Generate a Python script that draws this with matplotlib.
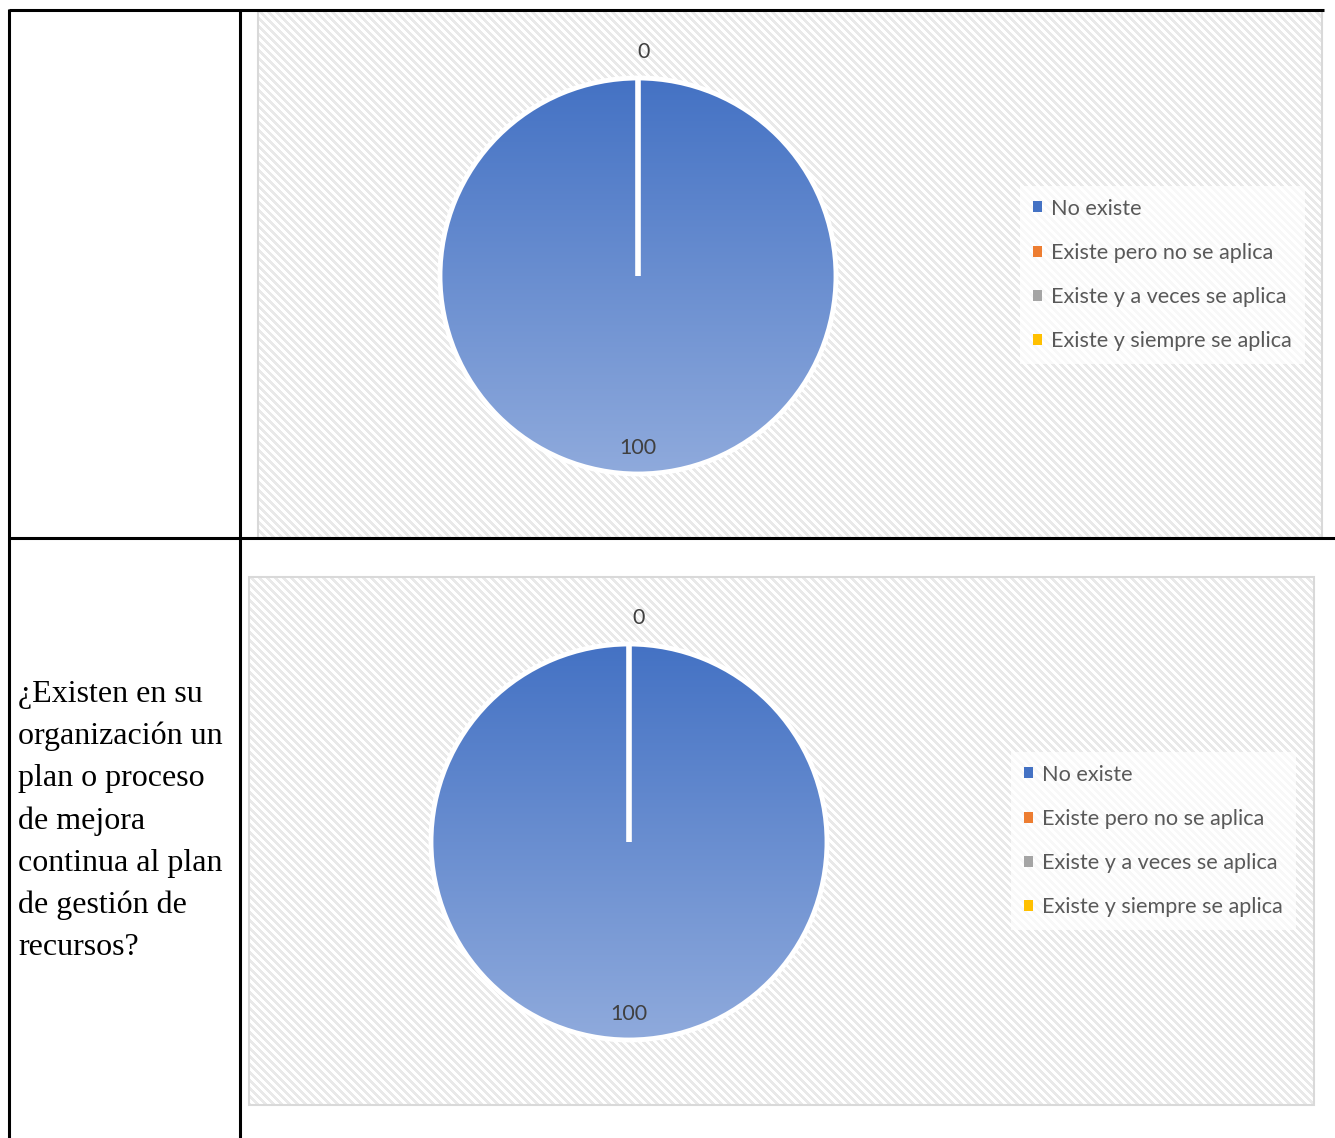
import numpy as np
import matplotlib
matplotlib.use("Agg")
import matplotlib.pyplot as plt
from matplotlib.colors import LinearSegmentedColormap
from matplotlib.patches import Patch, Rectangle

# ---- data ----
categories = ["No existe", "Existe pero no se aplica",
              "Existe y a veces se aplica", "Existe y siempre se aplica"]
values_chart1 = [100, 0, 0, 0]
values_chart2 = [100, 0, 0, 0]
colors = ["#4472C4", "#ED7D31", "#A5A5A5", "#FFC000"]
question_lines = ["¿Existen en su", "organización un", "plan o proceso",
                  "de mejora", "continua al plan", "de gestión de",
                  "recursos?"]

W, H = 1335, 1138
fig = plt.figure(figsize=(W / 100, H / 100), dpi=100)
fig.patch.set_facecolor("white")

bg = fig.add_axes([0, 0, 1, 1])
bg.set_xlim(0, W)
bg.set_ylim(H, 0)
bg.axis("off")


def hatch_area(x0, y0, x1, y1):
    w, h = int(x1 - x0), int(y1 - y0)
    yy, xx = np.mgrid[0:h, 0:w]
    stripe = ((xx - yy) % 8) < 4
    img = np.ones((h, w, 3))
    img[stripe] = np.array([0.915, 0.915, 0.915])
    bg.imshow(img, extent=(x0, x1, y1, y0), interpolation="nearest",
              origin="upper", zorder=1)
    bg.add_patch(Rectangle((x0, y0), x1 - x0, y1 - y0, fill=False,
                           edgecolor="#d9d9d9", lw=1.5, zorder=2))


# chart areas
hatch_area(258, 11, 1322, 538)
hatch_area(249, 577, 1314, 1105)
bg.set_xlim(0, W)
bg.set_ylim(H, 0)

# table lines
lk = dict(color="black", lw=2.2, zorder=5, solid_capstyle="butt")
bg.plot([9, 1324], [10, 10], **lk)
bg.plot([9, 1335], [538, 538], **lk)
bg.plot([9, 9], [9, H], **lk)
bg.plot([240, 240], [9, H], **lk)

# question text
for i, line in enumerate(question_lines):
    bg.text(18, 702 + i * 42.2, line, family="Liberation Serif", fontsize=23,
            color="black", va="baseline", ha="left", zorder=6)

grad_cmap = LinearSegmentedColormap.from_list("g", ["#8FAADC", "#4472C4"])


def draw_pie(values, cx, cy, R, legend_left, legend_cy, dx0):
    ax = fig.add_axes([(cx - R) / W, 1 - (cy + R) / H, 2 * R / W, 2 * R / H])
    wedges, _ = ax.pie(values, colors=colors, startangle=90, counterclock=False,
                       wedgeprops=dict(edgecolor="white", linewidth=3.5))
    grad = np.linspace(0, 1, 256).reshape(-1, 1)
    for wdg, v in zip(wedges, values):
        wdg.set_zorder(3)
        if v > 0:
            wdg.set_facecolor("none")
            im = ax.imshow(grad, extent=(-1, 1, -1, 1), origin="lower",
                           cmap=grad_cmap, aspect="auto", zorder=2)
            im.set_clip_path(wdg)
    ax.set_xlim(-1, 1)
    ax.set_ylim(-1, 1)
    ax.axis("off")
    seen = set()
    for wdg, v in zip(wedges, values):
        mid = np.deg2rad((wdg.theta1 + wdg.theta2) / 2)
        d = 0.87 if v > 0 else 1.13
        x, y = d * np.cos(mid), d * np.sin(mid)
        key = (round(x, 3), round(y, 3))
        if key in seen:
            continue
        seen.add(key)
        dx = 0.0 if v > 0 else dx0
        ax.text(x + dx, y, f"{v}", ha="center", va="center", family="Lato",
                fontsize=15.5, color="#404040", zorder=6)
    handles = [Patch(facecolor=c, edgecolor="none") for c in colors]
    leg = fig.legend(handles, categories, loc="center left",
                     bbox_to_anchor=(legend_left / W, 1 - legend_cy / H),
                     borderaxespad=0,
                     frameon=True, prop=dict(family="Lato", size=15.6),
                     handlelength=0.42, handleheight=0.42, handletextpad=0.42,
                     labelspacing=1.12, borderpad=0.6, fancybox=False)
    leg.get_frame().set_facecolor("white")
    leg.get_frame().set_alpha(0.7)
    leg.get_frame().set_edgecolor("none")
    for t in leg.get_texts():
        t.set_color("#595959")


draw_pie(values_chart1, 638, 276, 198, 1020, 275, 0.03)
draw_pie(values_chart2, 629, 842, 198, 1011, 841, 0.05)

fig.savefig("out.png", dpi=100)
